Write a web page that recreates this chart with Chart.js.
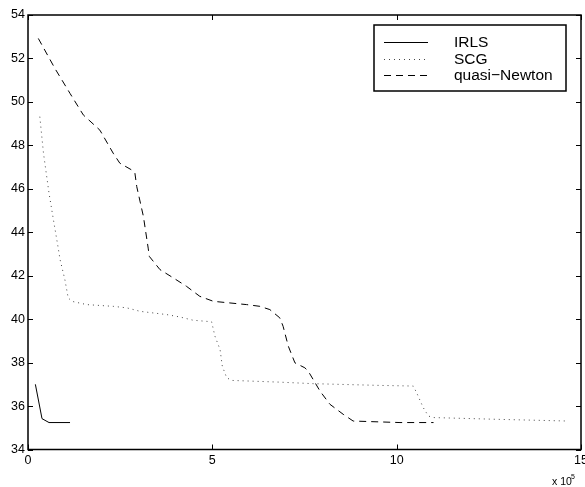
<!DOCTYPE html>
<html>
<head>
<meta charset="utf-8">
<script src="https://cdn.jsdelivr.net/npm/chart.js@4/dist/chart.umd.min.js"></script>
<style>
  html, body { margin: 0; padding: 0; background: #fff; }
  #wrap { width: 585px; height: 487px; }
</style>
</head>
<body>
<div id="wrap"><canvas id="c" width="585" height="487"></canvas></div>
<script>
// values (x in units of 10^5)
const irlsX = [0.2, 0.38, 0.57, 1.14]
const irlsY = [37.0, 35.42, 35.24, 35.24]

const scgX = [0.32, 0.42, 0.57, 0.69, 0.82, 0.87, 1.0, 1.09, 1.19, 1.59, 2.31, 2.68, 3.04, 3.76, 4.12, 4.48, 4.98, 5.07, 5.21, 5.27, 5.39, 5.53, 6.83, 7.74, 9.55, 10.45, 10.54, 10.72, 10.86, 11.0, 12.71, 14.65]
const scgY = [49.32, 47.64, 45.8, 44.57, 43.27, 42.74, 41.82, 40.98, 40.82, 40.67, 40.59, 40.52, 40.36, 40.21, 40.1, 39.95, 39.88, 39.22, 38.6, 37.84, 37.3, 37.18, 37.1, 37.03, 36.95, 36.92, 36.62, 35.93, 35.54, 35.47, 35.39, 35.31]

const qnX = [0.28, 0.73, 1.14, 1.5, 1.95, 2.31, 2.49, 2.81, 2.9, 2.95, 3.13, 3.26, 3.29, 3.58, 3.94, 4.3, 4.66, 5.03, 5.93, 6.29, 6.56, 6.83, 6.92, 7.06, 7.24, 7.51, 7.6, 7.92, 8.19, 8.55, 8.82, 10.09, 11.0]
const qnY = [52.92, 51.54, 50.39, 49.4, 48.7, 47.64, 47.18, 46.87, 46.72, 46.1, 44.73, 43.27, 42.89, 42.28, 41.9, 41.51, 41.05, 40.82, 40.67, 40.59, 40.44, 40.06, 39.67, 38.76, 37.99, 37.76, 37.61, 36.69, 36.08, 35.62, 35.31, 35.24, 35.24]

const seriesNames = ['IRLS', 'SCG', 'quasi\u2212Newton']
const xTicks = [0, 5, 10, 15]
const yTicks = [34, 36, 38, 40, 42, 44, 46, 48, 50, 52, 54]

const FONT = "'Liberation Sans', Arial, Helvetica, sans-serif"

function pts(xs, ys) {
  return xs.map((x, i) => ({ x: x, y: ys[i] }))
}

// MATLAB style box with inward ticks, legend and exponent label
const matlabAxes = {
  id: 'matlabAxes',
  afterDraw(chart) {
    const ctx = chart.ctx
    const a = chart.chartArea
    const xs = chart.scales.x
    const ys = chart.scales.y
    const tl = 5
    ctx.save()
    ctx.strokeStyle = '#000'
    ctx.lineWidth = 1.5
    ctx.strokeRect(a.left, a.top, a.right - a.left, a.bottom - a.top)
    ctx.lineWidth = 1
    ctx.beginPath()
    xTicks.forEach(v => {
      const px = Math.round(xs.getPixelForValue(v)) + 0.5
      ctx.moveTo(px, a.bottom); ctx.lineTo(px, a.bottom - tl)
      ctx.moveTo(px, a.top); ctx.lineTo(px, a.top + tl)
    })
    yTicks.forEach(v => {
      const py = Math.round(ys.getPixelForValue(v)) + 0.5
      ctx.moveTo(a.left, py); ctx.lineTo(a.left + tl, py)
      ctx.moveTo(a.right, py); ctx.lineTo(a.right - tl, py)
    })
    ctx.stroke()

    // exponent label
    ctx.fillStyle = '#000'
    ctx.textBaseline = 'alphabetic'
    ctx.textAlign = 'left'
    ctx.font = '10.5px ' + FONT
    ctx.fillText('x 10', 552, 485)
    ctx.font = '7px ' + FONT
    ctx.fillText('5', 571, 479)

    // legend
    const lx = 374, ly = 25, lw = 192, lh = 66
    ctx.fillStyle = '#fff'
    ctx.fillRect(lx, ly, lw, lh)
    ctx.lineWidth = 1.5
    ctx.strokeRect(lx, ly, lw, lh)
    chart.data.datasets.forEach((ds, i) => {
      const y = Math.round(ly + 17 + i * 16.6) + 0.5
      ctx.strokeStyle = ds.borderColor
      ctx.lineWidth = ds.borderWidth
      ctx.setLineDash(ds.borderDash || [])
      ctx.beginPath()
      ctx.moveTo(384, y); ctx.lineTo(428, y)
      ctx.stroke()
      ctx.setLineDash([])
      ctx.fillStyle = '#000'
      ctx.font = '15.5px ' + FONT
      ctx.textBaseline = 'middle'
      ctx.fillText(ds.label, 454, y)
    })
    ctx.restore()
  }
}

new Chart(document.getElementById('c'), {
  type: 'scatter',
  data: {
    datasets: [
      { label: seriesNames[0], data: pts(irlsX, irlsY), showLine: true, borderColor: '#000', borderWidth: 1, pointRadius: 0 },
      { label: seriesNames[1], data: pts(scgX, scgY), showLine: true, borderColor: '#444', borderWidth: 1, borderDash: [1, 4], pointRadius: 0 },
      { label: seriesNames[2], data: pts(qnX, qnY), showLine: true, borderColor: '#000', borderWidth: 1, borderDash: [7, 5], pointRadius: 0 }
    ]
  },
  options: {
    responsive: false,
    animation: false,
    events: [],
    layout: { autoPadding: false, padding: { top: 15, right: 4, left: 0, bottom: 0 } },
    plugins: { legend: { display: false }, tooltip: { enabled: false } },
    scales: {
      x: {
        type: 'linear', min: 0, max: 15,
        afterBuildTicks: s => { s.ticks = xTicks.map(v => ({ value: v })) },
        afterFit: s => { s.height = 37.5; s.paddingLeft = 0; s.paddingRight = 0 },
        grid: { display: false, drawTicks: false },
        border: { display: false },
        ticks: { color: '#000', font: { family: FONT, size: 12.5 }, padding: 4, maxRotation: 0 }
      },
      y: {
        type: 'linear', min: 34, max: 54,
        afterBuildTicks: s => { s.ticks = yTicks.map(v => ({ value: v })) },
        afterFit: s => { s.width = 28; s.paddingTop = 0; s.paddingBottom = 0 },
        grid: { display: false, drawTicks: false },
        border: { display: false },
        ticks: { color: '#000', font: { family: FONT, size: 12.5 }, padding: 3 }
      }
    }
  },
  plugins: [matlabAxes]
})
</script>
</body>
</html>
